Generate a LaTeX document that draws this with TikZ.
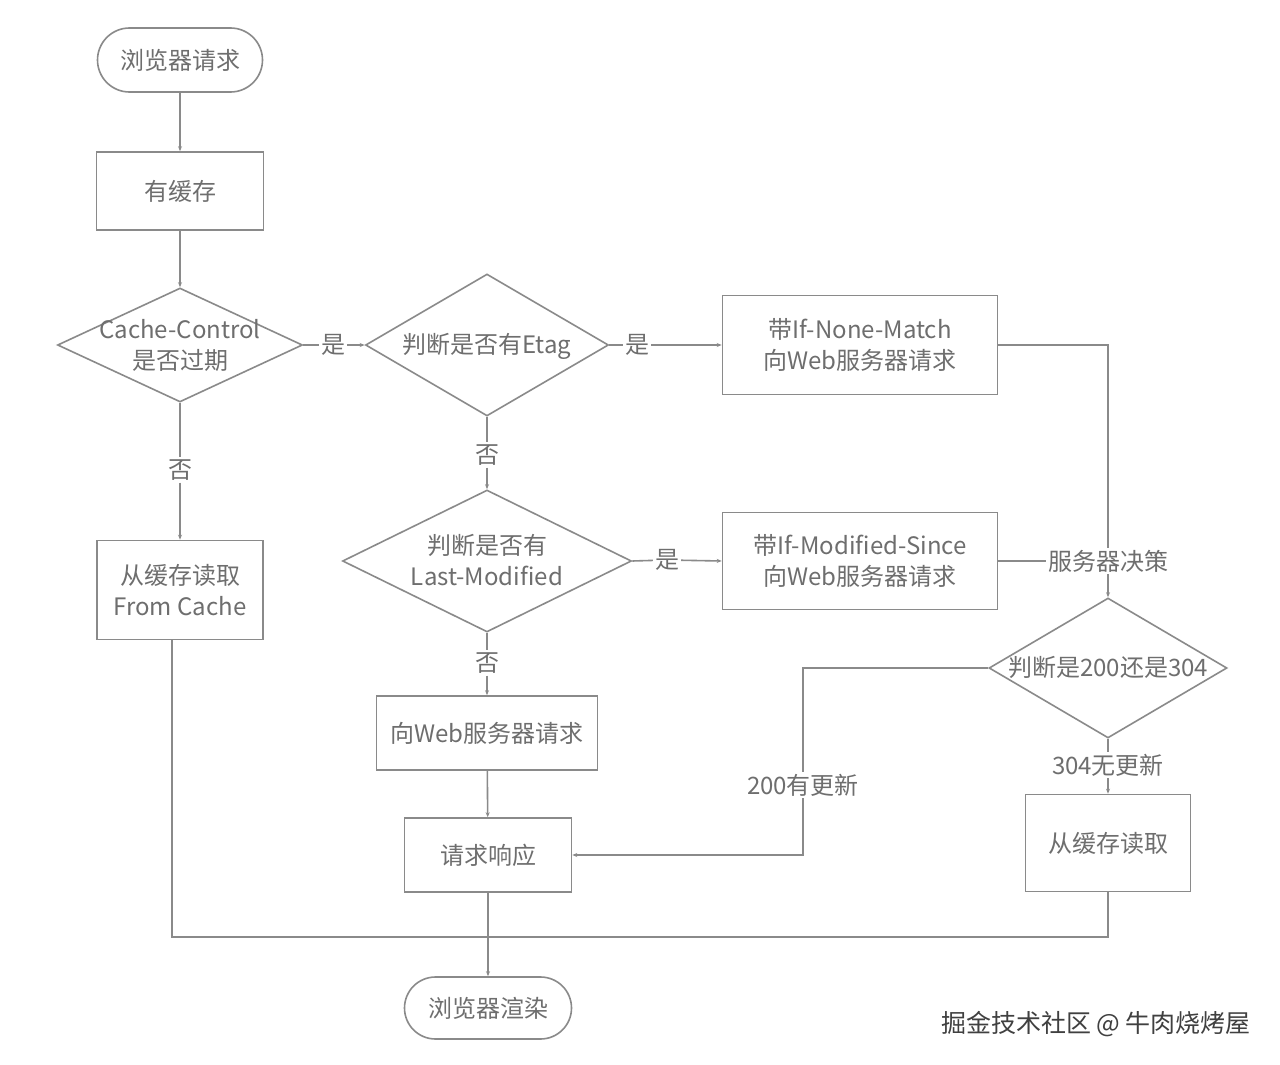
\documentclass[tikz,border=0pt]{standalone}
\usepackage{fontspec}
\setmainfont{Noto Sans CJK SC}
\usetikzlibrary{shapes.geometric,shapes.misc,arrows.meta}
\definecolor{ln}{HTML}{8A8A8A}
\definecolor{tx}{HTML}{6E6E6E}
\newcommand\dtext[1]{\smash{\raisebox{-9pt}{\makebox[0pt]{\begin{tabular}{@{}c@{}}#1\end{tabular}}}}}
\begin{document}
\begin{tikzpicture}[x=1pt,y=-1pt,
  every node/.style={font=\fontsize{24}{31}\selectfont, text=tx},
  box/.style={draw=ln, line width=1.6pt, rectangle, align=center, inner sep=0pt},
  term/.style={draw=ln, line width=1.6pt, rounded rectangle, inner sep=0pt},
  dia/.style={draw=ln, line width=1.6pt, diamond, inner sep=0pt},
  lbl/.style={fill=white, inner sep=2pt},
  conn/.style={draw=ln, line width=1.6pt},
  arr/.style={conn, -{Stealth[length=5pt,width=4pt]}}]
\useasboundingbox[fill=white] (0,0) rectangle (1280,1065);
% nodes
\node[term, minimum width=165, minimum height=64] (start) at (180,60) {浏览器请求};
\node[box, minimum width=167, minimum height=78] (has) at (180,191) {有缓存};
\node[dia, minimum width=245, minimum height=114] (d1) at (180,345) {\dtext{Cache-Control\\是否过期}};
\node[dia, minimum width=243, minimum height=142] (d2) at (487,345) {\dtext{判断是否有Etag}};
\node[box, minimum width=275, minimum height=99] (nm) at (860,345) {带If-None-Match\\向Web服务器请求};
\node[box, minimum width=166, minimum height=99] (fc) at (180,590) {从缓存读取\\From Cache};
\node[dia, minimum width=289, minimum height=142] (d3) at (487,561) {\dtext{判断是否有\\Last-Modified}};
\node[box, minimum width=275, minimum height=97] (ims) at (860,561) {带If-Modified-Since\\向Web服务器请求};
\node[lbl] (dec) at (1108,561) {服务器决策};
\node[dia, minimum width=238, minimum height=140] (d4) at (1108,668) {\dtext{判断是200还是304}};
\node[box, minimum width=221, minimum height=74] (web) at (487,733) {向Web服务器请求};
\node[box, minimum width=167, minimum height=74] (resp) at (488,855) {请求响应};
\node[box, minimum width=165, minimum height=97] (c2) at (1108,843) {从缓存读取};
\node[term, minimum width=167, minimum height=62] (end) at (488,1008) {浏览器渲染};
% labels
\node[lbl] (y1) at (333,345) {是};
\node[lbl] (y2) at (637,345) {是};
\node[lbl] (y3) at (667,560) {是};
\node[lbl] (n1) at (180,470) {否};
\node[lbl] (n2) at (487,455) {否};
\node[lbl] (n3) at (487,663) {否};
\node[lbl] (l200) at (803,785) {200有更新};
\node[lbl] (l304) at (1108,765) {304无更新};
\coordinate (j) at (488,937);
% connectors
\draw[arr] (start) -- (has);
\draw[arr] (has) -- (d1);
\draw[conn] (d1.east) -- (y1);
\draw[arr] (y1) -- (d2.west);
\draw[conn] (d2.east) -- (y2);
\draw[arr] (y2) -- (nm.west);
\draw[conn] (d1.south) -- (n1);
\draw[arr] (n1) -- (fc);
\draw[conn] (d2.south) -- (n2);
\draw[arr] (n2) -- (d3.north);
\draw[conn] (d3.east) -- (y3);
\draw[arr] (y3) -- (ims.west);
\draw[conn] (d3.south) -- (n3);
\draw[arr] (n3) -- (web);
\draw[arr] (web) -- (resp);
\draw[conn] (nm.east) -| (dec.north);
\draw[conn] (ims.east) -- (dec.west);
\draw[arr] (dec.south) -- (d4.north);
\draw[conn] (d4.west) -| (l200.north);
\draw[arr] (l200.south) |- (resp.east);
\draw[conn] (d4.south) -- (l304);
\draw[arr] (l304) -- (c2);
\draw[conn] ([xshift=-8pt]fc.south) |- (j);
\draw[conn] (c2.south) |- (j);
\draw[arr] (resp.south) -- (end.north);
% watermark
\node[font=\fontsize{25}{30}\selectfont, text=black!75] (wm) at (1096,1024) {掘金技术社区 @ 牛肉烧烤屋};
\end{tikzpicture}
\end{document}
